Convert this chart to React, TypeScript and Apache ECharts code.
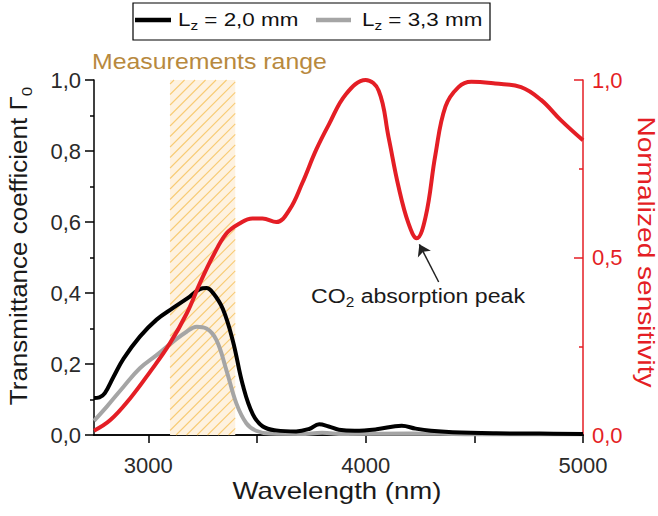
import React, { useEffect, useRef } from "react";
import * as echarts from "echarts";

const FONT = "Liberation Sans";

const blackWavelength = [2750, 2775, 2800, 2840, 2886, 2961, 3038, 3114, 3191, 3237, 3267, 3298, 3343, 3389, 3435, 3481, 3527, 3588, 3680, 3740, 3786, 3830, 3877, 3950, 4050, 4166, 4230, 4300, 4400, 4600, 4800, 5000];
const blackValues = [0.104, 0.106, 0.118, 0.164, 0.215, 0.277, 0.325, 0.358, 0.39, 0.411, 0.414, 0.4, 0.355, 0.265, 0.14, 0.058, 0.024, 0.013, 0.01, 0.017, 0.03, 0.024, 0.015, 0.012, 0.016, 0.026, 0.018, 0.012, 0.008, 0.005, 0.004, 0.003];

const grayWavelength = [2750, 2809, 2886, 2961, 3038, 3114, 3176, 3222, 3267, 3313, 3359, 3405, 3451, 3496, 3560, 3700, 3800, 3900, 4200, 4600, 5000];
const grayValues = [0.04, 0.08, 0.136, 0.188, 0.225, 0.263, 0.291, 0.305, 0.3, 0.268, 0.183, 0.089, 0.033, 0.012, 0.004, 0.003, 0.006, 0.003, 0.004, 0.002, 0.002];

const redWavelength = [2750, 2825, 2916, 3008, 3099, 3177, 3237, 3296, 3360, 3420, 3479, 3525, 3589, 3649, 3708, 3772, 3831, 3909, 4000, 4060, 4105, 4151, 4197, 4235, 4276, 4321, 4367, 4427, 4486, 4596, 4715, 4807, 4898, 5000];
const redValues = [0.012, 0.042, 0.103, 0.178, 0.258, 0.343, 0.427, 0.502, 0.568, 0.596, 0.61, 0.61, 0.6, 0.634, 0.709, 0.803, 0.875, 0.96, 1.0, 0.97, 0.84, 0.7, 0.596, 0.554, 0.615, 0.79, 0.925, 0.98, 0.995, 0.99, 0.98, 0.944, 0.887, 0.83];

const measurementBand = [3100, 3400];
const xLabelValues = [3000, 4000, 5000];
const xTickValues = [3000, 3500, 4000, 4500, 5000];
const arrowTail = [4336, 0.431];
const arrowHead = [4247, 0.537];

const seriesNames = ["Lz = 2,0 mm", "Lz = 3,3 mm"];
const legendValues = ["2,0", "3,3"];

const RED = "#e41e25";
const GRAY = "#a5a5a5";
const TXT = "#1a1a1a";

const zip = (xs: number[], ys: number[]) => xs.map((x, i) => [x, ys[i]]);
const comma = (v: number) => v.toFixed(1).replace(".", ",");

const subRich = (big: number, small: number, color: string) => ({
  a: { fontSize: big, fontFamily: FONT, fill: color, color, lineHeight: big + 3, verticalAlign: "top" },
  s: { fontSize: small, fontFamily: FONT, fill: color, color, lineHeight: 10, verticalAlign: "bottom" },
});

export default function App() {
  const ref = useRef<HTMLDivElement>(null);
  useEffect(() => {
    if (!ref.current) return;
    const chart = echarts.init(ref.current, null, { renderer: "svg" });
    const option: any = {
      animation: false,
      textStyle: { fontFamily: FONT },
      grid: { left: 94, right: 75, top: 80, bottom: 81, outerBoundsMode: "none", containLabel: false },
      xAxis: [
        {
          type: "value",
          min: 2750,
          max: 5000,
          position: "bottom",
          splitLine: { show: false },
          axisLine: { lineStyle: { color: "#000", width: 1.5 } },
          axisTick: { show: true, length: 8, customValues: xTickValues, lineStyle: { color: "#000", width: 1.5 } },
          axisLabel: {
            customValues: xLabelValues,
            fontSize: 22,
            color: "#2a2a2a",
            margin: 19,
            fontFamily: FONT,
            formatter: (v: number) => String(v),
          },
        },
        {
          type: "value",
          min: 2750,
          max: 5000,
          position: "top",
          splitLine: { show: false },
          axisLine: { lineStyle: { color: "#000", width: 1.5 } },
          axisTick: { show: false },
          axisLabel: { show: false },
        },
      ],
      yAxis: [
        {
          type: "value",
          min: 0,
          max: 1,
          interval: 0.2,
          position: "left",
          splitLine: { show: false },
          axisLine: { show: true, lineStyle: { color: "#000", width: 1.5 } },
          axisTick: { show: true, length: 9, lineStyle: { color: "#000", width: 1.5 } },
          minorTick: { show: true, splitNumber: 2, length: 4, lineStyle: { color: "#000", width: 1.5 } },
          axisLabel: { fontSize: 22, color: "#2a2a2a", margin: 13, fontFamily: FONT, formatter: comma },
        },
        {
          type: "value",
          min: 0,
          max: 1,
          interval: 0.5,
          position: "right",
          splitLine: { show: false },
          axisLine: { show: true, lineStyle: { color: RED, width: 1.5 } },
          axisTick: { show: true, inside: true, length: 9, lineStyle: { color: RED, width: 1.5 } },
          minorTick: { show: true, splitNumber: 2, length: 4, lineStyle: { color: RED, width: 1.5 } },
          axisLabel: { fontSize: 22, color: RED, margin: 9, fontFamily: FONT, formatter: comma },
        },
      ],
      series: [
        {
          type: "custom",
          name: "Measurements range",
          xAxisIndex: 0,
          yAxisIndex: 0,
          silent: true,
          encode: { x: [0, 1] },
          data: [measurementBand],
          z: 1,
          renderItem: (params: any, api: any) => {
            const p0 = api.coord([api.value(0), 1]);
            const p1 = api.coord([api.value(1), 0]);
            const x0 = p0[0], y0 = p0[1], x1 = p1[0], y1 = p1[1];
            const children: any[] = [
              { type: "rect", shape: { x: x0, y: y0, width: x1 - x0, height: y1 - y0 }, style: { fill: "#fef2e0" } },
            ];
            const step = 10.5;
            for (let c = x0 + y0 + 4; c < x1 + y1; c += step) {
              const xa = Math.max(x0, c - y1);
              const xb = Math.min(x1, c - y0);
              if (xb > xa) {
                children.push({
                  type: "line",
                  shape: { x1: xa, y1: c - xa, x2: xb, y2: c - xb },
                  style: { stroke: "#f8cb74", lineWidth: 1.1 },
                });
              }
            }
            return { type: "group", children };
          },
        },
        {
          type: "line",
          name: seriesNames[1],
          data: zip(grayWavelength, grayValues),
          xAxisIndex: 0,
          yAxisIndex: 0,
          showSymbol: false,
          smooth: 0.4,
          color: GRAY,
          lineStyle: { color: GRAY, width: 4 },
          z: 3,
        },
        {
          type: "line",
          name: seriesNames[0],
          data: zip(blackWavelength, blackValues),
          xAxisIndex: 0,
          yAxisIndex: 0,
          showSymbol: false,
          smooth: 0.4,
          color: "#000",
          lineStyle: { color: "#000", width: 4 },
          z: 4,
        },
        {
          type: "line",
          name: "Normalized sensitivity",
          data: zip(redWavelength, redValues),
          xAxisIndex: 0,
          yAxisIndex: 1,
          showSymbol: false,
          smooth: 0.4,
          color: RED,
          lineStyle: { color: RED, width: 4 },
          z: 5,
          markLine: {
            silent: true,
            symbol: ["none", "arrow"],
            symbolSize: 11,
            label: { show: false },
            lineStyle: { color: "#222", width: 1.5, type: "solid" },
            data: [[{ coord: arrowTail }, { coord: arrowHead }]],
          },
        },
      ],
      graphic: [
        // legend box
        {
          type: "rect",
          shape: { x: 133, y: 3, width: 357, height: 37 },
          style: { fill: "#fff", stroke: "#000", lineWidth: 1.2 },
        },
        {
          type: "line",
          shape: { x1: 135, y1: 20, x2: 171, y2: 20 },
          style: { stroke: "#000", lineWidth: 4.5 },
        },
        {
          type: "text",
          x: 178,
          y: 21,
          scaleX: 1.18,
          style: {
            text: `{a|L}{s|z}{a| = ${legendValues[0]} mm}`,
            align: "left",
            verticalAlign: "middle",
            rich: subRich(19, 13, "#111"),
          },
        },
        {
          type: "line",
          shape: { x1: 316, y1: 20, x2: 351, y2: 20 },
          style: { stroke: GRAY, lineWidth: 4.5 },
        },
        {
          type: "text",
          x: 362,
          y: 21,
          scaleX: 1.18,
          style: {
            text: `{a|L}{s|z}{a| = ${legendValues[1]} mm}`,
            align: "left",
            verticalAlign: "middle",
            rich: subRich(19, 13, "#111"),
          },
        },
        // band title
        {
          type: "text",
          x: 92,
          y: 62,
          scaleX: 1.13,
          style: {
            text: "Measurements range",
            fontSize: 22,
            fontFamily: FONT,
            fill: "#b8893e",
            verticalAlign: "middle",
            align: "left",
          },
        },
        // annotation
        {
          type: "text",
          x: 311,
          y: 297,
          scaleX: 1.1,
          style: {
            text: "{a|CO}{s|2}{a| absorption peak}",
            align: "left",
            verticalAlign: "middle",
            rich: subRich(21, 14, TXT),
          },
        },
        // x axis title
        {
          type: "text",
          x: 337,
          y: 491,
          scaleX: 1.2,
          style: {
            text: "Wavelength (nm)",
            fontSize: 23,
            fontFamily: FONT,
            fill: TXT,
            align: "center",
            verticalAlign: "middle",
          },
        },
        // left y title
        {
          type: "text",
          x: 21,
          y: 246,
          rotation: Math.PI / 2,
          scaleX: 1.13,
          style: {
            text: "{a|Transmittance coefficient Γ}{s|0}",
            align: "center",
            verticalAlign: "middle",
            rich: subRich(23, 15, TXT),
          },
        },
        // right y title
        {
          type: "text",
          x: 646,
          y: 252,
          rotation: -Math.PI / 2,
          scaleX: 1.22,
          style: {
            text: "Normalized sensitivity",
            fontSize: 23,
            fontFamily: FONT,
            fill: RED,
            align: "center",
            verticalAlign: "middle",
          },
        },
      ],
    };
    chart.setOption(option);
    return () => chart.dispose();
  }, []);
  return <div ref={ref} style={{ width: 658, height: 516, position: "absolute", left: 0, top: 0 }} />;
}
